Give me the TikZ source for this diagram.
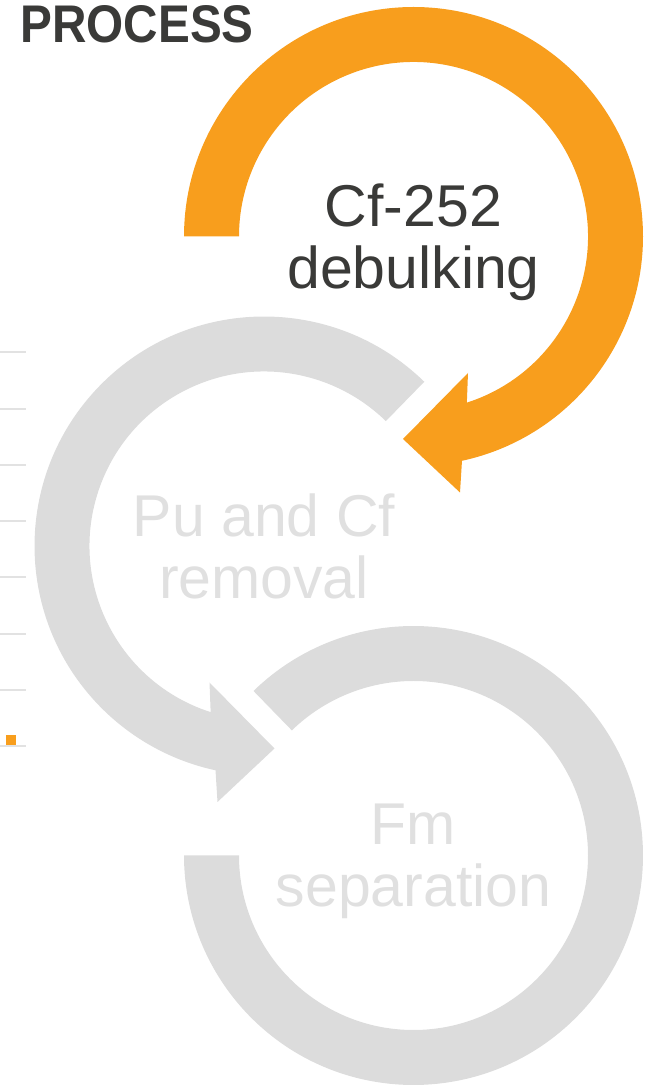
\documentclass[tikz,border=0pt]{standalone}
\usepackage{fontspec}
\setmainfont{Liberation Sans}
\newfontfamily\titlefont[FakeStretch=0.9]{Liberation Sans}
\usepackage{xcolor}
\definecolor{cforange}{RGB}{248,158,29}
\definecolor{ringgrey}{RGB}{220,220,220}
\definecolor{inkgrey}{RGB}{58,58,56}
\definecolor{fadegrey}{RGB}{224,224,224}
\definecolor{gridgrey}{RGB}{226,226,226}

\begin{document}
\begin{tikzpicture}[x=0.5pt, y=0.5pt,
    steptext/.style={align=center, inner sep=0pt, text depth=0pt,
      font=\fontsize{29.5}{31}\selectfont}]
    \useasboundingbox (0,0) rectangle (654,1088);

    % Title
    \node[anchor=base west, inner sep=0pt, inkgrey,
      font=\titlefont\bfseries\fontsize{26.5}{30}\selectfont] (title) at (20,1045) {PROCESS};

    % Grid stubs on the left edge
    \foreach \y in {342,398,454,511,567,623,679,736}{
      \draw[gridgrey, line width=0.75pt] (0,\y) -- (26,\y);
    }
    \fill[cforange] (6,343) rectangle (16,353);

    % Step 3 — Fm separation (grey ring, no head)
    \begin{scope}[shift={(413.5,232.5)}]
      \fill[ringgrey] (134.2:229.5) arc[start angle=134.2, end angle=-180, radius=229.5]
        -- (-180:174.5) arc[start angle=-180, end angle=134.2, radius=174.5] -- cycle;
    \end{scope}

    % Step 2 — Pu and Cf removal (grey ring, mirrored head)
    \begin{scope}[shift={(264,542)}, xscale=-1]
      \fill[ringgrey] (134.3:229.5) arc[start angle=134.3, end angle=-77.8, radius=229.5]
        -- (46.5,-256) -- (-10.5,-202.5) -- (54.5,-136.5)
        -- (-72.2:174.5) arc[start angle=-72.2, end angle=134.3, radius=174.5] -- cycle;
    \end{scope}

    % Step 1 — Cf-252 debulking (orange ring, highlighted)
    \begin{scope}[shift={(413.5,851.5)}]
      \fill[cforange] (180:229.5) arc[start angle=180, end angle=-77.8, radius=229.5]
        -- (46.5,-256) -- (-10.5,-202.5) -- (54.5,-136.5)
        -- (-72.2:174.5) arc[start angle=-72.2, end angle=180, radius=174.5] -- cycle;
    \end{scope}

    % Step labels
    \node[steptext, inkgrey] (debulk) at (413.5,851.5) {Cf-252\\debulking};
    \node[steptext, fadegrey] (removal) at (264,542) {Pu and Cf\\removal};
    \node[steptext, fadegrey] (fmsep) at (413.5,232.5) {Fm\\separation};
  \end{tikzpicture}
\end{document}
